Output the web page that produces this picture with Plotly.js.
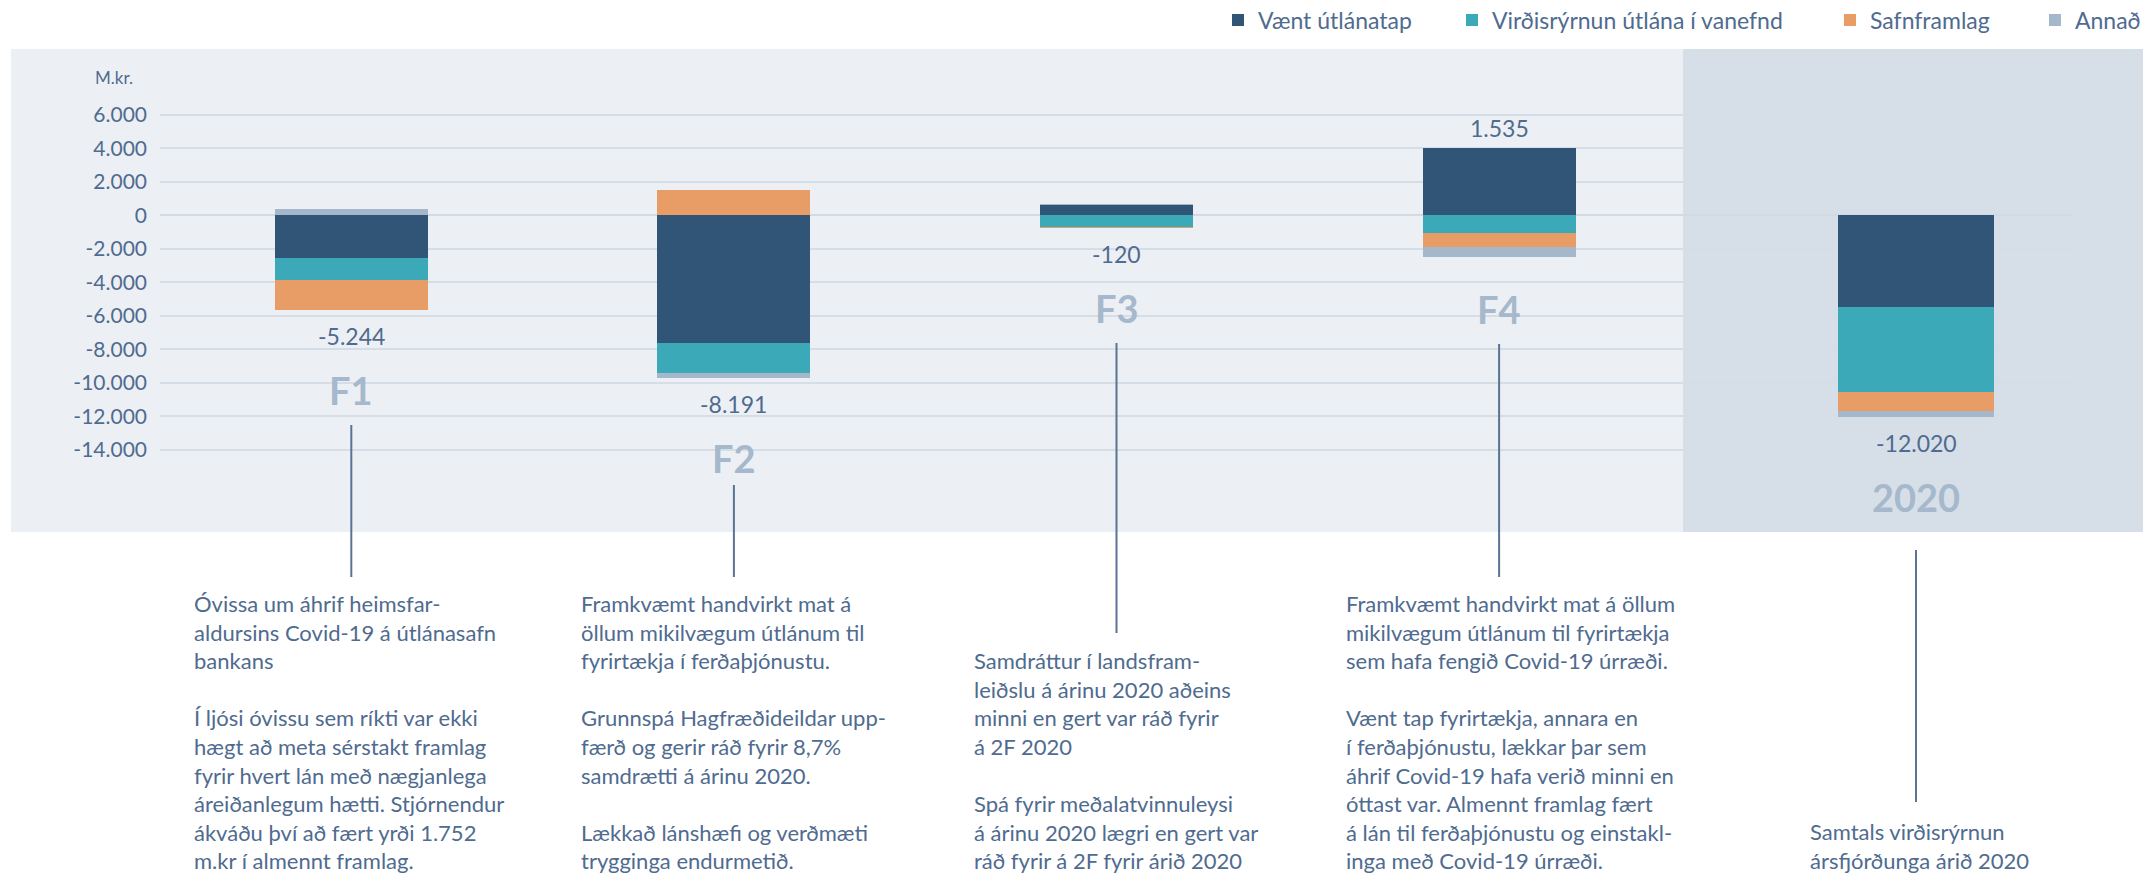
<!DOCTYPE html>
<html><head><meta charset="utf-8">
<script src="https://cdn.plot.ly/plotly-3.0.1.min.js"></script>
<style>html,body{margin:0;padding:0;background:#fff}</style>
</head><body><div id="chart" style="width:2146px;height:874px"></div>
<script>
// ---------- data ----------
const quarters = ['F1', 'F2', 'F3', 'F4'];
const yearCat = ['2020'];
const seriesNames = ['Vænt útlánatap', 'Virðisrýrnun útlána í vanefnd', 'Safnframlag', 'Annað'];
const vaentQ = [-2560, -7600, 620, 4040];
const virdQ = [-1332, -1845, -690, -1080];
const safnQ = [-1752, 1500, -80, -820];
const annadQ = [400, -246, 30, -605];
const vaentYear = [-5470];
const virdYear = [-5060];
const safnYear = [-1150];
const annadYear = [-340];
const totalsQ = [-5244, -8191, -120, 1535];
const totalYear = [-12020];
const yTickVals = [6000, 4000, 2000, 0, -2000, -4000, -6000, -8000, -10000, -12000, -14000];
const yUnit = 'M.kr.';
const notesQ = [
  'Óvissa um áhrif heimsfar-<br>aldursins Covid-19 á útlánasafn<br>bankans<br><br>Í ljósi óvissu sem ríkti var ekki<br>hægt að meta sérstakt framlag<br>fyrir hvert lán með nægjanlega<br>áreiðanlegum hætti. Stjórnendur<br>ákváðu því að fært yrði 1.752<br>m.kr í almennt framlag.',
  'Framkvæmt handvirkt mat á<br>öllum mikilvægum útlánum til<br>fyrirtækja í ferðaþjónustu.<br><br>Grunnspá Hagfræðideildar upp-<br>færð og gerir ráð fyrir 8,7%<br>samdrætti á árinu 2020.<br><br>Lækkað lánshæfi og verðmæti<br>trygginga endurmetið.',
  'Samdráttur í landsfram-<br>leiðslu á árinu 2020 aðeins<br>minni en gert var ráð fyrir<br>á 2F 2020<br><br>Spá fyrir meðalatvinnuleysi<br>á árinu 2020 lægri en gert var<br>ráð fyrir á 2F fyrir árið 2020',
  'Framkvæmt handvirkt mat á öllum<br>mikilvægum útlánum til fyrirtækja<br>sem hafa fengið Covid-19 úrræði.<br><br>Vænt tap fyrirtækja, annara en<br>í ferðaþjónustu, lækkar þar sem<br>áhrif Covid-19 hafa verið minni en<br>óttast var. Almennt framlag fært<br>á lán til ferðaþjónustu og einstakl-<br>inga með Covid-19 úrræði.'
];
const noteYear = ['Samtals virðisrýrnun<br>ársfjórðunga árið 2020'];

// ---------- style / geometry ----------
const colors = ['#315576', '#3ca9b9', '#e89d66', '#a5b7cb'];
const FONT = 'Lato, "Open Sans", sans-serif';
const textCol = '#4f6b8f';
const W = 2146, H = 874;
const plotL = 160, plotR = 2073, plotT = 49, plotB = 532;
const zeroPx = 215.2, pxPer2000 = 33.5;
const px2x = p => (p - plotL) / (plotR - plotL);
const px2y = p => (plotB - p) / (plotB - plotT);
const yTop = (zeroPx - plotT) / pxPer2000 * 2000;
const yBot = -(plotB - zeroPx) / pxPer2000 * 2000;
const splitPx = 1690.4;      // end of quarter axis
const shadeL = 1683, bgL = 11, bgR = 2143;
const noteX = [191.5, 578.7, 971.6, 1343.6];
const noteYearX = 1807.7;
const noteBottomPx = 876;
const conTop = [425, 485, 343, 344];
const conBot = [577, 577, 633, 577];
const conYear = [550, 802];
const legendSquarePx = [1232, 1466, 1844, 2049];
const legendKeys = ['legend', 'legend2', 'legend3', 'legend4'];

const fmt = v => (v < 0 ? '-' : '') + Math.abs(v).toString().replace(/\B(?=(\d{3})+(?!\d))/g, '.');

const qSeries = [vaentQ, virdQ, safnQ, annadQ];
const ySeries = [vaentYear, virdYear, safnYear, annadYear];

const traces = [];
qSeries.forEach((vals, i) => {
  traces.push({
    type: 'bar', x: quarters, y: vals, name: seriesNames[i], legendgroup: 'g' + i, legend: legendKeys[i],
    marker: {color: colors[i], line: {width: 0}}, width: 0.4,
    xaxis: 'x', yaxis: 'y', hoverinfo: 'skip'
  });
});
ySeries.forEach((vals, i) => {
  traces.push({
    type: 'bar', x: yearCat, y: vals, name: seriesNames[i], legendgroup: 'g' + i, showlegend: false,
    marker: {color: colors[i], line: {width: 0}}, width: 0.408,
    xaxis: 'x2', yaxis: 'y', hoverinfo: 'skip'
  });
});

const sumNeg = arrs => arrs[0].map((_, k) => arrs.reduce((s, a) => s + Math.min(0, a[k]), 0));
const sumPos = arrs => arrs[0].map((_, k) => arrs.reduce((s, a) => s + Math.max(0, a[k]), 0));
const negQ = sumNeg(qSeries), posQ = sumPos(qSeries);
const negY = sumNeg(ySeries), posY = sumPos(ySeries);

const annotations = [];
function addLabels(cats, totals, neg, pos, xa) {
  cats.forEach((c, k) => {
    const t = totals[k];
    annotations.push({
      xref: xa, yref: 'y', x: k, y: t < 0 ? neg[k] : pos[k], yanchor: 'middle',
      yshift: t < 0 ? -26 : 20, text: fmt(t), showarrow: false,
      font: {family: FONT, size: 23, color: textCol}
    });
    annotations.push({
      xref: xa, yref: 'y', x: k, y: neg[k], yanchor: 'middle',
      yshift: t < 0 ? -80 : -52, text: '<b>' + c + '</b>', showarrow: false,
      font: {family: FONT, size: 38, color: '#a6b8cc'}
    });
  });
}
addLabels(quarters, totalsQ, negQ, posQ, 'x');
addLabels(yearCat, totalYear, negY, posY, 'x2');

notesQ.forEach((t, k) => annotations.push({
  xref: 'paper', yref: 'paper', x: px2x(noteX[k]), y: px2y(noteBottomPx),
  xanchor: 'left', yanchor: 'bottom', align: 'left', text: t, showarrow: false,
  font: {family: FONT, size: 22, color: textCol}
}));
annotations.push({
  xref: 'paper', yref: 'paper', x: px2x(noteYearX), y: px2y(noteBottomPx),
  xanchor: 'left', yanchor: 'bottom', align: 'left', text: noteYear[0], showarrow: false,
  font: {family: FONT, size: 22, color: textCol}
});
annotations.push({
  xref: 'paper', yref: 'paper', x: px2x(93), y: px2y(77.5), xanchor: 'left', yanchor: 'middle',
  text: yUnit, showarrow: false, font: {family: FONT, size: 17, color: textCol}
});

const shapes = [
  {type: 'rect', xref: 'paper', yref: 'paper', x0: px2x(bgL), x1: px2x(bgR), y0: 0, y1: 1,
   fillcolor: '#ecf0f4', line: {width: 0}, layer: 'below'},
  {type: 'rect', xref: 'paper', yref: 'paper', x0: px2x(shadeL), x1: px2x(bgR), y0: 0, y1: 1,
   fillcolor: '#d6dfe7', line: {width: 0}, layer: 'below'}
];
quarters.forEach((c, k) => shapes.push({
  type: 'line', xref: 'x', yref: 'paper', x0: k, x1: k, y0: px2y(conTop[k]), y1: px2y(conBot[k]),
  line: {color: '#5b7394', width: 2}
}));
shapes.push({type: 'line', xref: 'x2', yref: 'paper', x0: 0, x1: 0, y0: px2y(conYear[0]), y1: px2y(conYear[1]),
  line: {color: '#5b7394', width: 2}});

const yearRangeL = -((1916 - splitPx) / (plotR - splitPx));
const layout = {
  width: W, height: H,
  margin: {l: plotL, r: W - plotR, t: plotT, b: H - plotB, autoexpand: false},
  paper_bgcolor: '#ffffff', plot_bgcolor: 'rgba(0,0,0,0)',
  barmode: 'relative', bargap: 0,
  font: {family: FONT, color: textCol},
  showlegend: true,
  xaxis: {domain: [0, px2x(splitPx)], type: 'category', range: [-0.5, quarters.length - 0.5],
          showticklabels: false, showgrid: false, zeroline: false, showline: false, ticks: '', fixedrange: true},
  xaxis2: {domain: [px2x(splitPx), 1], type: 'category', range: [yearRangeL, yearRangeL + 1], anchor: 'y',
          showticklabels: false, showgrid: false, zeroline: false, showline: false, ticks: '', fixedrange: true},
  yaxis: {range: [yBot, yTop], tickvals: yTickVals, ticktext: yTickVals.map(fmt),
          showgrid: true, gridcolor: '#d5dde6', gridwidth: 2,
          zeroline: true, zerolinecolor: '#d2dbe4', zerolinewidth: 2,
          ticks: '', ticklabelstandoff: 12, tickfont: {family: FONT, size: 21, color: textCol}, fixedrange: true},
  annotations: annotations, shapes: shapes
};
legendKeys.forEach((key, i) => {
  layout[key] = {orientation: 'h', xanchor: 'left', yanchor: 'middle',
    x: px2x(legendSquarePx[i] - 14), y: px2y(20),
    font: {family: FONT, size: 23, color: textCol}, bgcolor: 'rgba(0,0,0,0)'};
});

Plotly.newPlot('chart', traces, layout, {displayModeBar: false, staticPlot: true});
</script></body></html>
